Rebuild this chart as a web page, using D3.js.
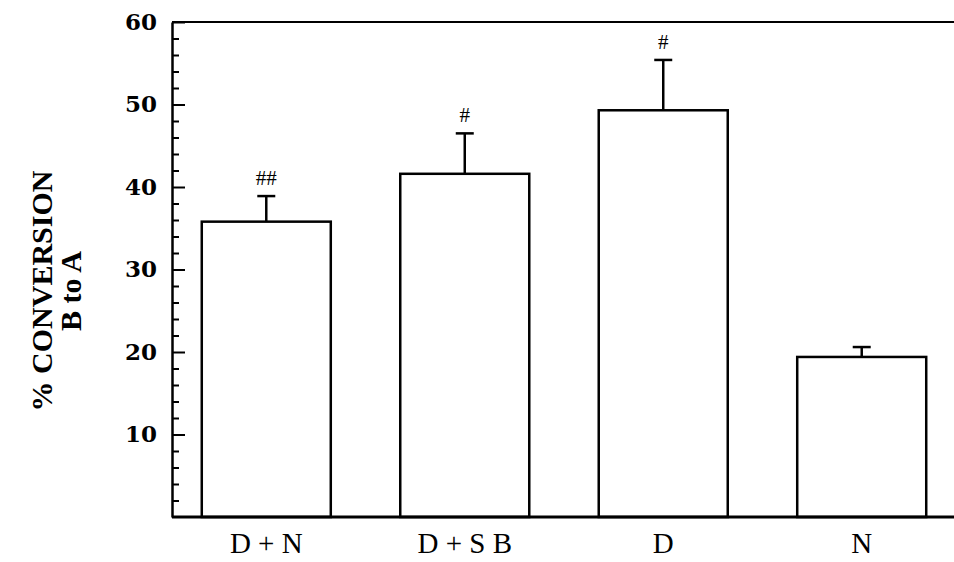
<!DOCTYPE html>
<html>
<head>
<meta charset="utf-8">
<script src="https://cdn.jsdelivr.net/npm/d3@7"></script>
<style>
  body { margin: 0; background: #fff; }
  svg { display: block; }
</style>
</head>
<body>
<svg width="954" height="562"></svg>
<script>
const categories = ["D + N", "D + S B", "D", "N"];
const means = [35.8, 41.6, 49.3, 19.4];
const upperErr = [3.1, 4.9, 6.1, 1.2];
const signif = ["##", "#", "#", ""];
const majorTicks = [10, 20, 30, 40, 50, 60];
const minorTicks = d3.range(2, 60, 2).filter(v => v % 10 !== 0);

const SERIF = "'Liberation Serif', 'Times New Roman', serif";
const BOLD_SERIF = "'DejaVu Serif', 'Liberation Serif', serif";

const svg = d3.select('svg');
const plotLeft = 172, plotRight = 956, plotTop = 22, plotBottom = 517;

const x = d3.scaleBand()
    .domain(categories)
    .range([plotLeft, plotRight])
    .paddingInner(0.35)
    .paddingOuter(0.15);

const y = d3.scaleLinear()
    .domain([0, 60])
    .range([plotBottom, plotTop]);

// minor ticks
svg.append('g')
    .attr('transform', `translate(${plotLeft},0)`)
    .call(d3.axisLeft(y).tickValues(minorTicks).tickSizeInner(-7).tickSizeOuter(0).tickFormat(''))
    .call(g => g.select('.domain').remove())
    .selectAll('line').attr('stroke', '#000').attr('stroke-width', 2);

// major ticks + labels
const yAxis = svg.append('g')
    .attr('transform', `translate(${plotLeft},0)`)
    .call(d3.axisLeft(y).tickValues(majorTicks).tickSizeInner(-13).tickSizeOuter(0).tickPadding(15));
yAxis.attr('font-size', null).attr('font-family', null);
yAxis.select('.domain').attr('stroke', '#000').attr('stroke-width', 2.5);
yAxis.selectAll('line').attr('stroke', '#000').attr('stroke-width', 2);
yAxis.selectAll('text')
    .attr('fill', '#000')
    .style('font-family', BOLD_SERIF)
    .style('font-weight', 'bold')
    .style('font-size', '23px');

// top frame line
svg.append('line')
    .attr('x1', plotLeft).attr('x2', 954)
    .attr('y1', y(60)).attr('y2', y(60))
    .attr('stroke', '#000').attr('stroke-width', 2);

// x axis baseline + labels
const xAxis = svg.append('g')
    .attr('transform', `translate(0,${plotBottom})`)
    .call(d3.axisBottom(x).tickSize(0));
xAxis.attr('font-size', null).attr('font-family', null);
xAxis.select('.domain').attr('d', `M${plotLeft},0H954`).attr('stroke', '#000').attr('stroke-width', 3);
xAxis.selectAll('text')
    .attr('fill', '#000')
    .attr('y', 36)
    .attr('dy', 0)
    .style('font-family', SERIF)
    .style('font-size', '29px');

const rows = categories.map((c, i) => ({ c, m: means[i], e: upperErr[i], s: signif[i] }));

const bars = svg.selectAll('.bar').data(rows).enter().append('g');

bars.append('line')
    .attr('x1', d => x(d.c) + x.bandwidth() / 2)
    .attr('x2', d => x(d.c) + x.bandwidth() / 2)
    .attr('y1', d => y(d.m))
    .attr('y2', d => y(d.m + d.e))
    .attr('stroke', '#000').attr('stroke-width', 2.5);

bars.append('line')
    .attr('x1', d => x(d.c) + x.bandwidth() / 2 - 9)
    .attr('x2', d => x(d.c) + x.bandwidth() / 2 + 9)
    .attr('y1', d => y(d.m + d.e))
    .attr('y2', d => y(d.m + d.e))
    .attr('stroke', '#000').attr('stroke-width', 2.5);

bars.append('rect')
    .attr('x', d => x(d.c))
    .attr('y', d => y(d.m))
    .attr('width', x.bandwidth())
    .attr('height', d => y(0) - y(d.m))
    .attr('fill', 'none')
    .attr('stroke', '#000')
    .attr('stroke-width', 2.5);

bars.append('text')
    .attr('x', d => x(d.c) + x.bandwidth() / 2)
    .attr('y', d => y(d.m + d.e) - 11)
    .attr('text-anchor', 'middle')
    .style('font-family', SERIF)
    .style('font-size', '21px')
    .text(d => d.s);

// y title
const titleY = 291;
svg.append('text')
    .attr('transform', `translate(52,${titleY}) rotate(-90)`)
    .attr('text-anchor', 'middle')
    .style('font-family', SERIF)
    .style('font-weight', 'bold')
    .style('font-size', '30px')
    .text('% CONVERSION');

svg.append('text')
    .attr('transform', `translate(81,${titleY}) rotate(-90)`)
    .attr('text-anchor', 'middle')
    .style('font-family', SERIF)
    .style('font-weight', 'bold')
    .style('font-size', '30px')
    .text('B to A');
</script>
</body>
</html>
